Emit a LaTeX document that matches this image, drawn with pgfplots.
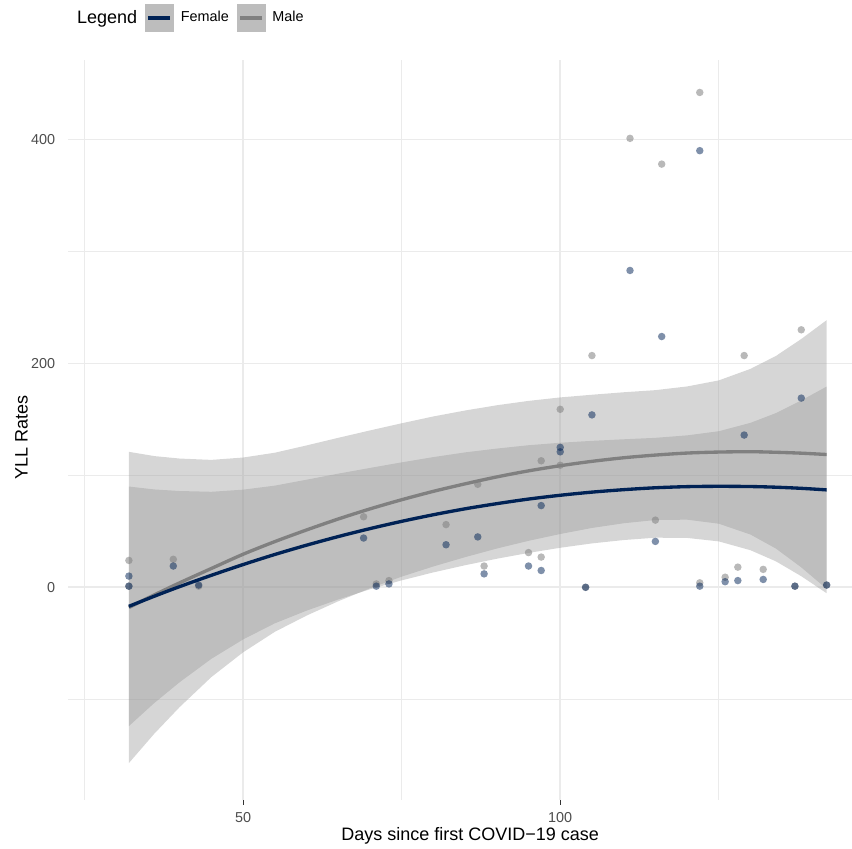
\documentclass[border=0pt]{standalone}
\usepackage{fontspec}
\setmainfont{Liberation Sans}
\usepackage{pgfplots}
\pgfplotsset{compat=1.18}
\definecolor{femalecol}{RGB}{0,34,85}
\definecolor{malecol}{RGB}{128,128,128}
\definecolor{bandcol}{RGB}{153,153,153}
\definecolor{grid92}{RGB}{235,235,235}
\definecolor{grey30}{RGB}{77,77,77}
\definecolor{grey20}{RGB}{51,51,51}
\definecolor{keygray}{RGB}{189,189,189}
\begin{document}
\begin{tikzpicture}
\useasboundingbox (0,0) rectangle (511.2pt,508.8pt);
\begin{axis}[
  at={(40.8pt,28.8pt)}, anchor=south west,
  scale only axis, width=470.4pt, height=444pt,
  xmin=22.4, xmax=146, ymin=-190, ymax=471,
  axis line style={draw=none},
  tick align=outside, xtick pos=bottom, ytick pos=left,
  major tick length=2.7pt, minor tick length=0pt,
  xtick style={draw=grey20, line width=0.6pt},
  ytick style={draw=none},
  xtick={50,100}, ytick={0,200,400},
  minor xtick={25,75,125}, minor ytick={-100,100,300},
  grid=both,
  major grid style={color=grid92, line width=1.05pt},
  minor grid style={color=grid92, line width=0.53pt},
  /pgf/number format/assume math mode=true,
  ticklabel style={font=\fontsize{8.64}{10}\selectfont, text=grey30, inner sep=0pt},
  xticklabel style={anchor=north, yshift=-4.8pt},
  yticklabel style={anchor=east, xshift=-4.8pt},
  every axis x label/.style={at={(axis description cs:0.513,0)}, anchor=north, yshift=-16.2pt, inner sep=0pt, font=\fontsize{10.8}{12}\selectfont},
  every axis y label/.style={at={(axis description cs:-0.051,0.49)}, rotate=90, anchor=south, inner sep=0pt, font=\fontsize{10.8}{12}\selectfont},
  xlabel={Days since first COVID−19 case},
  ylabel={YLL Rates},
  legend columns=3,
  legend style={
    at={(axis description cs:0.0115,1.0568)}, anchor=west, xshift=-4.2pt,
    draw=none, fill=none, inner sep=0pt, outer sep=0pt,
    font=\fontsize{8.64}{10}\selectfont,
    nodes={inner sep=0pt},
    /tikz/every odd column/.style={column sep=4.2pt},
    /tikz/every even column/.style={column sep=4.8pt},
  },
  legend cell align=left,
]
\addlegendimage{legend image code/.code={}}
\addlegendentry{\fontsize{10.8}{12}\selectfont Legend}
\addlegendimage{legend image code/.code={\fill[keygray] (0pt,-8.1pt) rectangle (16.8pt,8.1pt); \draw[femalecol, line width=2pt] (1.8pt,0pt) -- (15pt,0pt);}}
\addlegendentry{Female}
\addlegendimage{legend image code/.code={\fill[keygray] (0pt,-8.1pt) rectangle (16.8pt,8.1pt); \draw[malecol, line width=2pt] (1.8pt,0pt) -- (15pt,0pt);}}
\addlegendentry{Male}

% points: male
\addplot[forget plot, only marks, mark=*, mark size=2.25pt, mark options={draw opacity=0, fill=malecol, fill opacity=0.55}] coordinates {
(32,24) (32,1) (39,25) (43,1) (69,63) (71,3) (73,6) (82,56) (87,92) (88,19)
(95,31) (97,113) (97,27) (100,109) (100,159) (104,0) (105,207) (111,401) (115,60) (116,378)
(122,442) (122,4) (126,9) (128,18) (129,207) (132,16) (137,1) (138,230) (142,2)
};
% points: female
\addplot[forget plot, only marks, mark=*, mark size=2.25pt, mark options={draw opacity=0, fill=femalecol, fill opacity=0.5}] coordinates {
(32,10) (32,1) (39,19) (43,2) (69,44) (71,1) (73,3) (82,38) (87,45) (88,12)
(95,19) (97,73) (97,15) (100,125) (100,121) (104,0) (105,154) (111,283) (115,41) (116,224)
(122,390) (122,1) (126,5) (128,6) (129,136) (132,7) (137,1) (138,169) (142,2)
};

% band: female
\addplot[forget plot, draw=none, fill=bandcol, fill opacity=0.4] coordinates {
(32,90.0) (36,87.4) (40,86.0) (45,85.3) (50,87.2) (55,90.8) (60,96.1) (65,101.5) (70,106.6) (75,111.6)
(80,116.3) (85,120.5) (90,123.9) (95,126.9) (100,129.1) (105,130.8) (110,132.2) (115,133.5) (120,135.7) (125,139.4)
(130,146.9) (134,155.6) (138,166.9) (142,179.3)
(142,-5.3) (138,9.9) (134,23.2) (130,33.1) (125,41.0) (120,44.1) (115,44.3) (110,42.2) (105,39.2) (100,35.3)
(95,30.7) (90,25.5) (85,19.7) (80,13.3) (75,6.2) (70,-1.8) (65,-10.9) (60,-20.9) (55,-32.2) (50,-46.6)
(45,-63.9) (40,-84.8) (36,-103.4) (32,-124.0)
};
% band: male
\addplot[forget plot, draw=none, fill=bandcol, fill opacity=0.4] coordinates {
(32,121.0) (36,117.2) (40,115.0) (45,113.8) (50,115.9) (55,120.2) (60,126.7) (65,133.5) (70,140.1) (75,146.5)
(80,152.6) (85,157.9) (90,162.6) (95,166.5) (100,169.6) (105,172.0) (110,174.2) (115,176.1) (120,179.4) (125,184.8)
(130,195.1) (134,206.6) (138,221.8) (142,238.6)
(142,-1.4) (138,17.8) (134,34.6) (130,47.1) (125,56.8) (120,60.4) (115,60.1) (110,57.2) (105,53.0) (100,47.6)
(95,41.5) (90,34.6) (85,26.9) (80,18.6) (75,9.5) (70,-0.9) (65,-12.5) (60,-25.3) (55,-39.8) (50,-58.1)
(45,-80.2) (40,-107.0) (36,-130.8) (32,-157.0)
};

% fitted lines
\addplot[forget plot, smooth, malecol, line width=2pt] coordinates {
(32,-18.0) (36,-6.8) (40,4.0) (45,16.8) (50,29.5) (55,40.8) (60,51.2) (65,61.0) (70,70.0) (75,78.2)
(80,85.7) (85,92.4) (90,98.6) (95,104.0) (100,108.6) (105,112.5) (110,115.7) (115,118.1) (120,119.9) (125,120.8)
(130,121.1) (134,120.6) (138,119.8) (142,118.6)
};
\addplot[forget plot, smooth, femalecol, line width=2pt] coordinates {
(32,-17.0) (36,-8.0) (40,0.6) (45,10.7) (50,20.3) (55,29.3) (60,37.6) (65,45.3) (70,52.4) (75,58.9)
(80,64.8) (85,70.1) (90,74.7) (95,78.8) (100,82.2) (105,85.0) (110,87.2) (115,88.9) (120,89.9) (125,90.2)
(130,90.0) (134,89.4) (138,88.4) (142,87.0)
};
\end{axis}
\end{tikzpicture}
\end{document}
